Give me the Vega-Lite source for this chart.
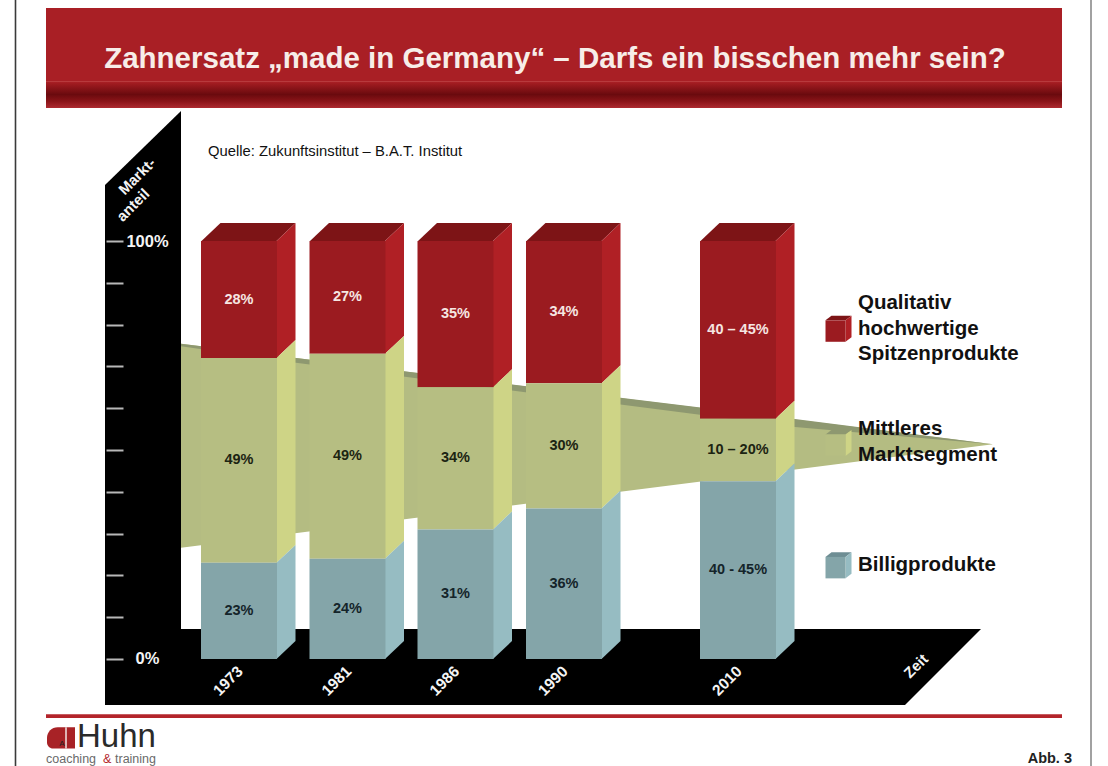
{
  "$schema": "https://vega.github.io/schema/vega-lite/v6.json",
  "width": 1108,
  "height": 766,
  "padding": 0,
  "autosize": {"type": "none"},
  "background": "#ffffff",
  "config": {"view": {"stroke": null}, "font": "Liberation Sans"},
  "datasets": {
    "segments": [
      {"year": 1973, "segment": "high", "level": 100, "level2": 72, "label": "28%"},
      {"year": 1973, "segment": "mid", "level": 72, "level2": 23, "label": "49%"},
      {"year": 1973, "segment": "low", "level": 23, "level2": 0, "label": "23%"},
      {"year": 1981, "segment": "high", "level": 100, "level2": 73, "label": "27%"},
      {"year": 1981, "segment": "mid", "level": 73, "level2": 24, "label": "49%"},
      {"year": 1981, "segment": "low", "level": 24, "level2": 0, "label": "24%"},
      {"year": 1986, "segment": "high", "level": 100, "level2": 65, "label": "35%"},
      {"year": 1986, "segment": "mid", "level": 65, "level2": 31, "label": "34%"},
      {"year": 1986, "segment": "low", "level": 31, "level2": 0, "label": "31%"},
      {"year": 1990, "segment": "high", "level": 100, "level2": 66, "label": "34%"},
      {"year": 1990, "segment": "mid", "level": 66, "level2": 36, "label": "30%"},
      {"year": 1990, "segment": "low", "level": 36, "level2": 0, "label": "36%"},
      {"year": 2010, "segment": "high", "level": 100, "level2": 57.5, "label": "40 – 45%"},
      {"year": 2010, "segment": "mid", "level": 57.5, "level2": 42.5, "label": "10 – 20%"},
      {"year": 2010, "segment": "low", "level": 42.5, "level2": 0, "label": "40 - 45%"}
    ],
    "sideFaces": [
      {"year": 1973, "segment": "high", "edge": 0, "level": 100, "level2": 72},
      {"year": 1973, "segment": "high", "edge": 1, "level": 104.3, "level2": 76.3},
      {"year": 1973, "segment": "mid", "edge": 0, "level": 72, "level2": 23},
      {"year": 1973, "segment": "mid", "edge": 1, "level": 76.3, "level2": 27.3},
      {"year": 1973, "segment": "low", "edge": 0, "level": 23, "level2": 0},
      {"year": 1973, "segment": "low", "edge": 1, "level": 27.3, "level2": 4.3},
      {"year": 1981, "segment": "high", "edge": 2, "level": 100, "level2": 73},
      {"year": 1981, "segment": "high", "edge": 3, "level": 104.3, "level2": 77.3},
      {"year": 1981, "segment": "mid", "edge": 2, "level": 73, "level2": 24},
      {"year": 1981, "segment": "mid", "edge": 3, "level": 77.3, "level2": 28.3},
      {"year": 1981, "segment": "low", "edge": 2, "level": 24, "level2": 0},
      {"year": 1981, "segment": "low", "edge": 3, "level": 28.3, "level2": 4.3},
      {"year": 1986, "segment": "high", "edge": 4, "level": 100, "level2": 65},
      {"year": 1986, "segment": "high", "edge": 5, "level": 104.3, "level2": 69.3},
      {"year": 1986, "segment": "mid", "edge": 4, "level": 65, "level2": 31},
      {"year": 1986, "segment": "mid", "edge": 5, "level": 69.3, "level2": 35.3},
      {"year": 1986, "segment": "low", "edge": 4, "level": 31, "level2": 0},
      {"year": 1986, "segment": "low", "edge": 5, "level": 35.3, "level2": 4.3},
      {"year": 1990, "segment": "high", "edge": 6, "level": 100, "level2": 66},
      {"year": 1990, "segment": "high", "edge": 7, "level": 104.3, "level2": 70.3},
      {"year": 1990, "segment": "mid", "edge": 6, "level": 66, "level2": 36},
      {"year": 1990, "segment": "mid", "edge": 7, "level": 70.3, "level2": 40.3},
      {"year": 1990, "segment": "low", "edge": 6, "level": 36, "level2": 0},
      {"year": 1990, "segment": "low", "edge": 7, "level": 40.3, "level2": 4.3},
      {"year": 2010, "segment": "high", "edge": 8, "level": 100, "level2": 57.5},
      {"year": 2010, "segment": "high", "edge": 9, "level": 104.3, "level2": 61.8},
      {"year": 2010, "segment": "mid", "edge": 8, "level": 57.5, "level2": 42.5},
      {"year": 2010, "segment": "mid", "edge": 9, "level": 61.8, "level2": 46.8},
      {"year": 2010, "segment": "low", "edge": 8, "level": 42.5, "level2": 0},
      {"year": 2010, "segment": "low", "edge": 9, "level": 46.8, "level2": 4.3}
    ],
    "topFaces": [
      {"year": 1973, "corner": 0, "level": 100, "level2": 100},
      {"year": 1973, "corner": 1, "level": 104.3, "level2": 100},
      {"year": 1973, "corner": 2, "level": 104.3, "level2": 100},
      {"year": 1973, "corner": 3, "level": 104.3, "level2": 104.3},
      {"year": 1981, "corner": 4, "level": 100, "level2": 100},
      {"year": 1981, "corner": 5, "level": 104.3, "level2": 100},
      {"year": 1981, "corner": 6, "level": 104.3, "level2": 100},
      {"year": 1981, "corner": 7, "level": 104.3, "level2": 104.3},
      {"year": 1986, "corner": 8, "level": 100, "level2": 100},
      {"year": 1986, "corner": 9, "level": 104.3, "level2": 100},
      {"year": 1986, "corner": 10, "level": 104.3, "level2": 100},
      {"year": 1986, "corner": 11, "level": 104.3, "level2": 104.3},
      {"year": 1990, "corner": 12, "level": 100, "level2": 100},
      {"year": 1990, "corner": 13, "level": 104.3, "level2": 100},
      {"year": 1990, "corner": 14, "level": 104.3, "level2": 100},
      {"year": 1990, "corner": 15, "level": 104.3, "level2": 104.3},
      {"year": 2010, "corner": 16, "level": 100, "level2": 100},
      {"year": 2010, "corner": 17, "level": 104.3, "level2": 100},
      {"year": 2010, "corner": 18, "level": 104.3, "level2": 100},
      {"year": 2010, "corner": 19, "level": 104.3, "level2": 104.3}
    ],
    "legendCubes": [
      {"segment": "high", "pos": 838.5, "level": 79},
      {"segment": "mid", "pos": 838.5, "level": 51.7},
      {"segment": "low", "pos": 838.5, "level": 22.4}
    ],
    "legendNames": [
      {"pos": 858, "level": 85.2, "text": "Qualitativ"},
      {"pos": 858, "level": 79, "text": "hochwertige"},
      {"pos": 858, "level": 73, "text": "Spitzenprodukte"},
      {"pos": 858, "level": 55, "text": "Mittleres"},
      {"pos": 858, "level": 48.8, "text": "Marktsegment"},
      {"pos": 858, "level": 22.5, "text": "Billigprodukte"}
    ]
  },
  "encoding": {
    "x": {"field": "pos", "type": "quantitative", "axis": null, "scale": {"domain": [0, 1108], "nice": false, "zero": false}},
    "y": {
      "field": "level",
      "type": "quantitative",
      "stack": null,
      "scale": {"domain": [-25.6, 157.66], "nice": false, "zero": false},
      "axis": {
        "orient": "left",
        "offset": -123,
        "title": null,
        "grid": false,
        "domain": false,
        "zindex": 1,
        "values": [0, 10, 20, 30, 40, 50, 60, 70, 80, 90, 100],
        "tickSize": 17,
        "tickWidth": 2,
        "tickColor": "#b8b8b8",
        "labelExpr": "datum.value == 100 ? '100%' : datum.value == 0 ? '0%' : ''",
        "labelColor": "#f4f4f4",
        "labelFont": "Liberation Sans",
        "labelFontWeight": "bold",
        "labelFontSize": 16.5,
        "labelAlign": "center",
        "labelBaseline": "middle",
        "labelPadding": -41
      }
    }
  },
  "layer": [
    {
      "description": "Page frame lines",
      "data": {"values": [{"pos": 15.5, "level": 157.66, "level2": -25.6, "side": "left"}, {"pos": 1091, "level": 157.66, "level2": -25.6, "side": "right"}]},
      "mark": {"type": "rule", "strokeWidth": 1.6},
      "encoding": {
        "y2": {"field": "level2"},
        "color": {"field": "side", "type": "nominal", "legend": null, "scale": {"domain": ["left", "right"], "range": ["#3a3a3a", "#8a8a8a"]}}
      }
    },
    {
      "description": "Title banner, upper part",
      "data": {"values": [{"pos": 46, "pos2": 1062, "level": 155.74, "level2": 138.1}]},
      "mark": {"type": "rect", "color": "#A91F25"},
      "encoding": {"x2": {"field": "pos2"}, "y2": {"field": "level2"}}
    },
    {
      "description": "Title banner, shaded lower band",
      "data": {"values": [{"pos": 46, "pos2": 1062, "level": 138.3, "level2": 131.8}]},
      "mark": {
        "type": "rect",
        "color": {
          "gradient": "linear", "x1": 0, "y1": 0, "x2": 0, "y2": 1,
          "stops": [
            {"offset": 0, "color": "#C24A4C"},
            {"offset": 0.06, "color": "#A51D22"},
            {"offset": 0.5, "color": "#6A0A0E"},
            {"offset": 0.75, "color": "#8A1418"},
            {"offset": 1, "color": "#AE2A30"}
          ]
        }
      },
      "encoding": {"x2": {"field": "pos2"}, "y2": {"field": "level2"}}
    },
    {
      "description": "Title",
      "data": {"values": [{"pos": 555, "level": 143.5, "text": "Zahnersatz „made in Germany“ – Darfs ein bisschen mehr sein?"}]},
      "mark": {"type": "text", "fontSize": 29.5, "fontWeight": "bold", "color": "#F7EDE8", "align": "center", "baseline": "middle"},
      "encoding": {"text": {"field": "text"}}
    },
    {
      "description": "Black wall of the chart",
      "data": {"values": [
        {"pos": 105, "level": 113.4, "level2": -11},
        {"pos": 181, "level": 131.1, "level2": -11}
      ]},
      "mark": {"type": "area", "color": "#000000"},
      "encoding": {"y2": {"field": "level2"}}
    },
    {
      "description": "Black floor of the chart",
      "data": {"values": [
        {"pos": 181, "level": 7.2, "level2": -11},
        {"pos": 905, "level": 7.2, "level2": -11},
        {"pos": 981, "level": 7.2, "level2": 7.2}
      ]},
      "mark": {"type": "area", "color": "#000000"},
      "encoding": {"y2": {"field": "level2"}}
    },
    {
      "description": "Middle market wedge narrowing towards the future",
      "data": {"values": [
        {"pos": 181, "level": 75.4, "level2": 26.6},
        {"pos": 993, "level": 51.4, "level2": 51.4}
      ]},
      "mark": {"type": "area", "color": "#B4BC82"},
      "encoding": {"y2": {"field": "level2"}}
    },
    {
      "description": "Upper surface of the wedge",
      "data": {"values": [
        {"pos": 181, "level": 75.4, "level2": 74.8},
        {"pos": 296, "level": 72, "level2": 70.9},
        {"pos": 795, "level": 57.4, "level2": 55.5},
        {"pos": 993, "level": 51.4, "level2": 51.4}
      ]},
      "mark": {"type": "area", "color": "#8E9870"},
      "encoding": {"y2": {"field": "level2"}}
    },
    {
      "description": "Top faces of the columns: four corners per column along a piecewise scale",
      "data": {"name": "topFaces"},
      "mark": {"type": "area", "color": "#7D1416"},
      "encoding": {
        "x": {
          "field": "corner", "type": "quantitative", "axis": null,
          "scale": {
            "domain": [0, 1, 2, 3, 4, 5, 6, 7, 8, 9, 10, 11, 12, 13, 14, 15, 16, 17, 18, 19],
            "range": [201.5, 220.5, 276.5, 295.5, 310, 329, 385, 404, 418, 437, 493, 512, 526.5, 545.5, 601.5, 620.5, 700.5, 719.5, 775.5, 794.5],
            "nice": false, "zero": false
          }
        },
        "y2": {"field": "level2"},
        "detail": {"field": "year"}
      }
    },
    {
      "description": "Right side faces of the columns: front and back edge per column along a piecewise scale",
      "data": {"name": "sideFaces"},
      "mark": {"type": "area"},
      "encoding": {
        "x": {
          "field": "edge", "type": "quantitative", "axis": null,
          "scale": {
            "domain": [0, 1, 2, 3, 4, 5, 6, 7, 8, 9],
            "range": [276.5, 295.5, 385, 404, 493, 512, 601.5, 620.5, 775.5, 794.5],
            "nice": false, "zero": false
          }
        },
        "y2": {"field": "level2"},
        "detail": {"field": "year"},
        "color": {"field": "segment", "type": "nominal", "legend": null, "scale": {"domain": ["high", "mid", "low"], "range": ["#B02025", "#CED486", "#96BCC2"]}}
      }
    },
    {
      "description": "Front faces of the columns",
      "data": {"name": "segments"},
      "mark": {"type": "bar", "width": 76},
      "encoding": {
        "x": {"field": "year", "type": "quantitative", "axis": null, "scale": {"domain": [1973, 1981, 1986, 1990, 2010], "range": [239, 347.5, 455.5, 564, 738], "nice": false, "zero": false, "padding": 0}},
        "y2": {"field": "level2"},
        "color": {"field": "segment", "type": "nominal", "legend": null, "scale": {"domain": ["high", "mid", "low"], "range": ["#9B1B20", "#B6BE82", "#84A5A9"]}}
      }
    },
    {
      "description": "Share labels centred on each column segment",
      "data": {"name": "segments"},
      "transform": [
        {"fold": ["level", "level2"], "as": ["edge", "edgeLevel"]},
        {"aggregate": [{"op": "mean", "field": "edgeLevel", "as": "centre"}], "groupby": ["year", "segment", "label"]}
      ],
      "mark": {"type": "text", "fontSize": 14.5, "fontWeight": "bold", "align": "center", "baseline": "middle"},
      "encoding": {
        "x": {"field": "year", "type": "quantitative", "axis": null, "scale": {"domain": [1973, 1981, 1986, 1990, 2010], "range": [239, 347.5, 455.5, 564, 738], "nice": false, "zero": false}},
        "y": {"field": "centre", "type": "quantitative", "stack": null, "scale": {"domain": [-25.6, 157.66], "nice": false, "zero": false}},
        "text": {"field": "label"},
        "color": {"field": "segment", "type": "nominal", "legend": null, "scale": {"domain": ["high", "mid", "low"], "range": ["#F6E6E2", "#1C2412", "#14242A"]}}
      }
    },
    {
      "description": "Year labels along the floor",
      "data": {"name": "segments"},
      "transform": [{"filter": "datum.segment == 'low'"}],
      "mark": {"type": "text", "fontSize": 15.5, "fontWeight": "bold", "color": "#f4f4f4", "angle": 315, "align": "center", "baseline": "middle", "dx": -23.3, "dy": 7.8},
      "encoding": {
        "x": {"field": "year", "type": "quantitative", "axis": null, "scale": {"domain": [1973, 1981, 1986, 1990, 2010], "range": [239, 347.5, 455.5, 564, 738], "nice": false, "zero": false}},
        "y": {"field": "level2", "type": "quantitative", "stack": null, "scale": {"domain": [-25.6, 157.66], "nice": false, "zero": false}},
        "text": {"field": "year", "type": "nominal"}
      }
    },
    {
      "description": "Axis captions on the black wall and floor",
      "data": {"values": [
        {"pos": 137, "level": 115.5, "text": "Markt-"},
        {"pos": 133, "level": 108.6, "text": "anteil"},
        {"pos": 916, "level": -1.7, "text": "Zeit"}
      ]},
      "mark": {"type": "text", "fontSize": 15, "fontWeight": "bold", "color": "#f4f4f4", "angle": 315, "align": "center", "baseline": "middle"},
      "encoding": {"text": {"field": "text"}}
    },
    {
      "description": "Source note",
      "data": {"values": [{"pos": 208, "level": 121.3, "text": "Quelle: Zukunftsinstitut – B.A.T. Institut"}]},
      "mark": {"type": "text", "fontSize": 14.8, "color": "#111111", "align": "left", "baseline": "middle"},
      "encoding": {"text": {"field": "text"}}
    },
    {
      "description": "Legend cube tops",
      "data": {"name": "legendCubes"},
      "mark": {"type": "point", "filled": true, "opacity": 1, "size": 676, "shape": "M-1 -0.65L-0.54 -1L1 -1L0.54 -0.65Z"},
      "encoding": {"color": {"field": "segment", "type": "nominal", "legend": null, "scale": {"domain": ["high", "mid", "low"], "range": ["#7D1416", "#8E9870", "#6E8E94"]}}}
    },
    {
      "description": "Legend cube sides",
      "data": {"name": "legendCubes"},
      "mark": {"type": "point", "filled": true, "opacity": 1, "size": 676, "shape": "M0.54 -0.65L1 -1L1 0.65L0.54 1Z"},
      "encoding": {"color": {"field": "segment", "type": "nominal", "legend": null, "scale": {"domain": ["high", "mid", "low"], "range": ["#B02025", "#CED486", "#96BCC2"]}}}
    },
    {
      "description": "Legend cube fronts",
      "data": {"name": "legendCubes"},
      "mark": {"type": "point", "filled": true, "opacity": 1, "size": 676, "shape": "M-1 -0.65L0.54 -0.65L0.54 1L-1 1Z"},
      "encoding": {"color": {"field": "segment", "type": "nominal", "legend": null, "scale": {"domain": ["high", "mid", "low"], "range": ["#9B1B20", "#B6BE82", "#84A5A9"]}}}
    },
    {
      "description": "Legend names, one row per printed line",
      "data": {"name": "legendNames"},
      "mark": {"type": "text", "fontSize": 20.5, "fontWeight": "bold", "color": "#111111", "align": "left", "baseline": "middle"},
      "encoding": {"text": {"field": "text"}}
    },
    {
      "description": "Footer rule",
      "data": {"values": [{"pos": 46, "pos2": 1062, "level": -13.2, "level2": -14.1}]},
      "mark": {"type": "rect", "color": "#B3242B"},
      "encoding": {"x2": {"field": "pos2"}, "y2": {"field": "level2"}}
    },
    {
      "description": "Logo block",
      "data": {"values": [{"pos": 47, "pos2": 75, "level": -16.3, "level2": -21.4}]},
      "mark": {"type": "bar", "color": "#A82226", "cornerRadiusTopLeft": 12, "cornerRadiusBottomLeft": 6},
      "encoding": {"x2": {"field": "pos2"}, "y2": {"field": "level2"}}
    },
    {
      "description": "Logo slit",
      "data": {"values": [{"pos": 66, "level": -16.3, "level2": -21.4}]},
      "mark": {"type": "rule", "color": "#f2e6e4", "strokeWidth": 1.5},
      "encoding": {"y2": {"field": "level2"}}
    },
    {
      "description": "Logo initial",
      "data": {"values": [{"pos": 62, "level": -20.3, "text": "A"}]},
      "mark": {"type": "text", "fontSize": 8, "color": "#222222", "align": "center", "baseline": "middle"},
      "encoding": {"text": {"field": "text"}}
    },
    {
      "description": "Logo lettering",
      "data": {"values": [{"pos": 77, "level": -18.6, "text": "Huhn"}]},
      "mark": {"type": "text", "fontSize": 33, "color": "#2a2a2a", "align": "left", "baseline": "middle"},
      "encoding": {"text": {"field": "text"}}
    },
    {
      "description": "Logo strapline",
      "data": {"values": [
        {"pos": 46, "level": -24, "text": "coaching", "part": "word"},
        {"pos": 103, "level": -24, "text": "&", "part": "amp"},
        {"pos": 115, "level": -24, "text": "training", "part": "word"}
      ]},
      "mark": {"type": "text", "fontSize": 12.5, "align": "left", "baseline": "middle"},
      "encoding": {
        "text": {"field": "text"},
        "color": {"field": "part", "type": "nominal", "legend": null, "scale": {"domain": ["word", "amp"], "range": ["#6a6a6a", "#B3242B"]}}
      }
    },
    {
      "description": "Figure number",
      "data": {"values": [{"pos": 1072, "level": -24, "text": "Abb. 3"}]},
      "mark": {"type": "text", "fontSize": 14.5, "fontWeight": "bold", "color": "#222222", "align": "right", "baseline": "middle"},
      "encoding": {"text": {"field": "text"}}
    }
  ],
  "resolve": {"scale": {"x": "independent", "color": "independent"}}
}
